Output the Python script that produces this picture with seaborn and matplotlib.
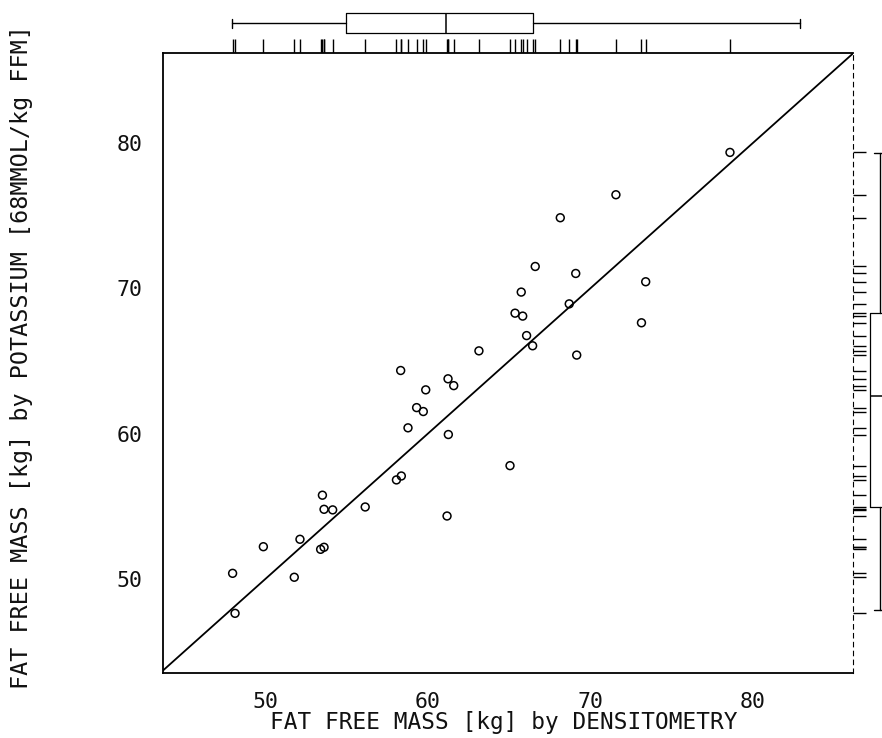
import numpy as np
import pandas as pd
import matplotlib
matplotlib.use("Agg")
import matplotlib.pyplot as plt
import seaborn as sns

# Fat free mass [kg]
ffm_densitometry = [48.01, 48.16, 49.90, 51.80, 52.15, 53.53, 53.63, 54.16, 53.42, 53.63,
                    56.16, 58.08, 58.38, 58.34, 58.79, 59.32, 59.73, 59.88, 61.25, 61.60,
                    61.27, 61.19, 63.15, 65.06, 65.37, 65.84, 65.75, 66.08, 66.45, 66.61,
                    68.15, 68.70, 69.10, 69.16, 71.57, 73.14, 73.40, 78.58]
ffm_potassium = [50.41, 47.66, 52.24, 50.14, 52.75, 55.78, 54.81, 54.77, 52.06, 52.20,
                 54.97, 56.83, 57.10, 64.35, 60.41, 61.80, 61.53, 63.02, 63.78, 63.31,
                 59.95, 54.35, 65.70, 57.81, 68.29, 68.09, 69.74, 66.75, 66.05, 71.50,
                 74.85, 68.93, 71.02, 65.41, 76.43, 67.63, 70.45, 79.34]

# marginal box summaries (whisker low, q1, median, q3, whisker high) as drawn
box_x = [47.95, 55.0, 61.1, 66.45, 82.9]
box_y = [47.9, 55.0, 62.6, 68.3, 79.3]

major_ticks = [50, 60, 70, 80]
minor_ticks = [45, 55, 65, 75, 85]

df = pd.DataFrame({"dens": ffm_densitometry, "pot": ffm_potassium})

sns.set_style("white")
plt.rcParams["font.family"] = ["DejaVu Sans Mono", "DejaVu Sans"]
plt.rcParams["text.color"] = "#111111"

W, H = 882, 738
fig = plt.figure(figsize=(W / 100, H / 100), dpi=100)

# pixel geometry of the panels
left, right, top, bottom = 163.3, 853.3, 52.6, 672.7
ax = fig.add_axes([left / W, 1 - bottom / H, (right - left) / W, (bottom - top) / H])
ax_top = fig.add_axes([left / W, 1 - top / H, (right - left) / W, top / H])
ax_right = fig.add_axes([right / W, 1 - bottom / H, (W - right) / W, (bottom - top) / H])

# main scatter + line of identity
sns.scatterplot(data=df, x="dens", y="pot", ax=ax, marker="o", s=32,
                facecolor="none", edgecolor="black", linewidth=1.1)
ax.axline((50, 50), slope=1, color="black", lw=1.3)

ax.set_xlim(43.75, 86.16)
ax.set_ylim(43.58, 86.2)
ticks = major_ticks + minor_ticks
ax.set_xticks(ticks)
ax.set_xticklabels([str(t) if t in major_ticks else "" for t in ticks])
ax.set_yticks(ticks)
ax.set_yticklabels([str(t) if t in major_ticks else "" for t in ticks])
ax.tick_params(direction="out", length=11, width=1.0, labelsize=15.5, pad=4, colors="#111111")
ax.tick_params(axis="x", pad=3)
ax.set_xlabel("")
ax.set_ylabel("")
for side in ["left", "bottom", "top"]:
    ax.spines[side].set_visible(True)
    ax.spines[side].set_color("black")
    ax.spines[side].set_linewidth(1.3)
ax.spines["right"].set_visible(True)
ax.spines["right"].set_color("black")
ax.spines["right"].set_linewidth(0.8)
ax.spines["right"].set_linestyle((0, (4, 4)))

fig.text(504 / W, 1 - 722 / H, "FAT FREE MASS [kg] by DENSITOMETRY",
         ha="center", va="center", fontsize=16.4)
fig.text(22 / W, 1 - 357 / H, "FAT FREE MASS [kg] by POTASSIUM [68MMOL/kg FFM]",
         ha="center", va="center", rotation=90, fontsize=16.8)

# top margin: rug + box of densitometry values
ax_top.set_xlim(ax.get_xlim())
ax_top.set_ylim(0, top)
sns.rugplot(x=ffm_densitometry, ax=ax_top, height=14 / top, color="black", lw=1.4)
stats_x = [dict(whislo=box_x[0], q1=box_x[1], med=box_x[2], q3=box_x[3], whishi=box_x[4], fliers=[])]
ax_top.bxp(stats_x, positions=[29.3], widths=20, orientation="horizontal", showfliers=False,
           capwidths=9,
           boxprops=dict(color="black", lw=0.9), whiskerprops=dict(color="black", lw=1.0),
           capprops=dict(color="black", lw=1.0), medianprops=dict(color="black", lw=1.1))
ax_top.set_ylim(0, top)
ax_top.axis("off")

# right margin: rug + box of potassium values
ax_right.set_ylim(ax.get_ylim())
ax_right.set_xlim(0, W - right)
sns.rugplot(y=ffm_potassium, ax=ax_right, height=13 / (W - right), color="black", lw=1.4)
stats_y = [dict(whislo=box_y[0], q1=box_y[1], med=box_y[2], q3=box_y[3], whishi=box_y[4], fliers=[])]
ax_right.bxp(stats_y, positions=[26.7], widths=20, orientation="vertical", showfliers=False,
             capwidths=12,
             boxprops=dict(color="black", lw=0.9), whiskerprops=dict(color="black", lw=1.0),
             capprops=dict(color="black", lw=1.0), medianprops=dict(color="black", lw=1.1))
ax_right.set_xlim(0, W - right)
ax_right.axis("off")

fig.savefig("out.png", dpi=100, facecolor="white")
